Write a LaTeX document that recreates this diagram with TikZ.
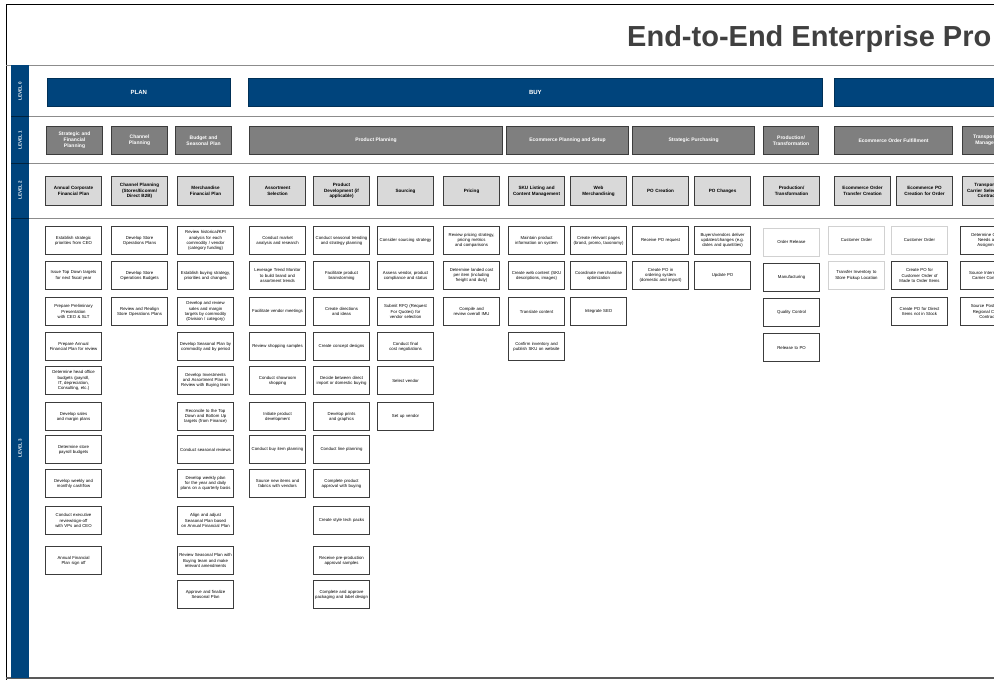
\documentclass[tikz,border=0pt]{standalone}
\usepackage{fontspec}
\setmainfont{Liberation Sans}
\usepackage{tikz}

\definecolor{lvlblue}{RGB}{0,68,124}
\definecolor{lvlgray}{RGB}{127,127,127}
\definecolor{lvllight}{RGB}{217,217,217}
\definecolor{titlegray}{RGB}{64,64,64}
\definecolor{boxline}{RGB}{60,60,60}

\hyphenpenalty=10000
\exhyphenpenalty=10000

\begin{document}
\begin{tikzpicture}[x=1pt,y=-1pt,
  lvlzero/.style={draw=lvlblue!70!black, line width=0.8pt, fill=lvlblue, text=white,
    anchor=north west, minimum height=28pt, inner sep=0pt,
    font=\fontsize{6}{7}\selectfont\bfseries},
  lvlone/.style={draw=boxline, line width=1.1pt, fill=lvlgray, text=white,
    anchor=north west, minimum height=28pt, inner sep=1pt, align=center,
    font=\fontsize{5}{6}\selectfont\bfseries},
  lvltwo/.style={draw=boxline, line width=1.1pt, fill=lvllight,
    anchor=north west, minimum width=56pt, minimum height=29pt, text width=53pt,
    inner sep=1pt, align=center, font=\fontsize{4.6}{5.6}\selectfont\bfseries},
  lvlthree/.style={draw=boxline, line width=1.1pt, fill=white,
    anchor=north west, minimum width=56pt, minimum height=28pt, text width=53pt,
    inner sep=1pt, align=center, font=\fontsize{4.3}{5.3}\selectfont},
  lvlpale/.style={lvlthree, draw=black!18, line width=0.8pt},
  lvltag/.style={rotate=90, text=white, inner sep=0pt,
    font=\fontsize{4.5}{5}\selectfont\bfseries},
  rowline/.style={draw=black!45, line width=0.9pt}]

% Page
\useasboundingbox (0,0) rectangle (994,680);
\clip (0,0) rectangle (994,680);
\fill[white] (0,0) rectangle (994,680);

% Title
\node[anchor=base west, inner sep=0pt, text=titlegray,
  font=\fontsize{29}{32}\selectfont\bfseries] (title) at (627,46) {End-to-End Enterprise Pro};

% Frame and row lines
\draw[black, line width=1pt] (6,680) -- (6,4) -- (994,4);
\draw[rowline] (6,65) -- (994,65);
\draw[rowline] (29,116) -- (994,116);
\draw[rowline] (29,163) -- (994,163);
\draw[rowline] (29,218) -- (994,218);
\draw[black!65, line width=1.3pt] (6,678) -- (994,678);

% Level strip
\fill[lvlblue] (11,65) rectangle (29,678);
\draw[lvlblue!50!black, line width=0.7pt] (11,116) -- (29,116);
\draw[lvlblue!50!black, line width=0.7pt] (11,163) -- (29,163);
\draw[lvlblue!50!black, line width=0.7pt] (11,218) -- (29,218);
\node[lvltag] (tagzero) at (20,91) {LEVEL 0};
\node[lvltag] (tagone) at (20,140) {LEVEL 1};
\node[lvltag] (tagtwo) at (20,190) {LEVEL 2};
\node[lvltag] (tagthree) at (20,448) {LEVEL 3};

% Level 0
\node[lvlzero, minimum width=183pt] (plan) at (47,78) {PLAN};
\node[lvlzero, minimum width=574pt] (buy) at (248,78) {BUY};
\node[lvlzero, minimum width=360pt] (nextphase) at (834,78) {};

% Level 1
\node[lvlone, minimum width=56pt, text width=52pt] (stratfin) at (46,126) {Strategic and\\Financial\\Planning};
\node[lvlone, minimum width=56pt, text width=52pt] (chanplan) at (111,126) {Channel\\Planning};
\node[lvlone, minimum width=56pt, text width=52pt] (budgseas) at (175,126) {Budget and\\Seasonal Plan};
\node[lvlone, minimum width=253pt] (prodplan) at (249,126) {Product Planning};
\node[lvlone, minimum width=122pt] (ecomsetup) at (506,126) {Ecommerce Planning and Setup};
\node[lvlone, minimum width=122pt] (stratpurch) at (632,126) {Strategic Purchasing};
\node[lvlone, minimum width=55pt, text width=52pt] (prodtrans) at (763,126) {Production/\\Transformation};
\node[lvlone, minimum width=118pt] (ecomfulfil) at (834,126) {Ecommerce Order Fulfillment};
\node[lvlone, minimum width=56pt, text width=52pt] (transmgmt) at (962,126) {Transportation\\Management};

% Level 2
\node[lvltwo] (corpplan) at (45,176) {Annual Corporate Financial Plan};
\node[lvltwo] (chanmix) at (111,176) {Channel Planning (Stores/Ecomm/ Direct B2B)};
\node[lvltwo] (merchplan) at (177,176) {Merchandise\\Financial Plan};
\node[lvltwo] (assort) at (249,176) {Assortment\\Selection};
\node[lvltwo] (proddev) at (313,176) {Product\\Development (if\\applicable)};
\node[lvltwo] (sourcing) at (377,176) {Sourcing};
\node[lvltwo] (pricing) at (443,176) {Pricing};
\node[lvltwo] (skulist) at (508,176) {SKU Listing and Content Management};
\node[lvltwo] (webmerch) at (570,176) {Web\\Merchandising};
\node[lvltwo] (pocreate) at (632,176) {PO Creation};
\node[lvltwo] (pochange) at (694,176) {PO Changes};
\node[lvltwo] (prodstep) at (763,176) {Production/ Transformation};
\node[lvltwo] (ordtrans) at (834,176) {Ecommerce Order Transfer Creation};
\node[lvltwo] (ordpo) at (896,176) {Ecommerce PO Creation for Order};
\node[lvltwo] (carrsel) at (962,176) {Transportation\\Carrier Selection and\\Contracting};

% Level 3 - annual corporate financial plan
\node[lvlthree] (corpa) at (45,226) {Establish strategic priorities from CEO};
\node[lvlthree] (corpb) at (45,261) {Issue Top Down targets for next fiscal year};
\node[lvlthree] (corpc) at (45,297) {Prepare Preliminary Presentation with CEO \& SLT};
\node[lvlthree] (corpd) at (45,332) {Prepare Annual Financial Plan for review};
\node[lvlthree] (corpe) at (45,366) {Determine head office budgets (payroll, IT, depreciation, Consulting, etc.)};
\node[lvlthree] (corpf) at (45,402) {Develop sales and margin plans};
\node[lvlthree] (corpg) at (45,435) {Determine store payroll budgets};
\node[lvlthree] (corph) at (45,469) {Develop weekly and monthly cashflow};
\node[lvlthree] (corpi) at (45,506) {Conduct executive review/sign-off with VPs and CEO};
\node[lvlthree] (corpj) at (45,546) {Annual Financial Plan sign off};

% Level 3 - channel planning
\node[lvlthree] (chana) at (111,226) {Develop Store Operations Plans};
\node[lvlthree] (chanb) at (111,261) {Develop Store Operations Budgets};
\node[lvlthree] (chanc) at (111,297) {Review and Realign Store Operations Plans};

% Level 3 - merchandise financial plan
\node[lvlthree] (merca) at (177,226) {Review historical/KPI analysis for each commodity / vendor (category funding)};
\node[lvlthree] (mercb) at (177,261) {Establish buying strategy, priorities and changes};
\node[lvlthree] (mercc) at (177,297) {Develop and review sales and margin targets by commodity (Division / category)};
\node[lvlthree] (mercd) at (177,332) {Develop Seasonal Plan by commodity and by period};
\node[lvlthree] (merce) at (177,366) {Develop Investments and Assortment Plan in Review with Buying team};
\node[lvlthree] (mercf) at (177,402) {Reconcile to the Top Down and Bottom Up targets (from Finance)};
\node[lvlthree] (mercg) at (177,435) {Conduct seasonal reviews};
\node[lvlthree] (merch) at (177,469) {Develop weekly plan for the year and daily plans on a quarterly basis};
\node[lvlthree] (merci) at (177,506) {Align and adjust Seasonal Plan based on Annual Financial Plan};
\node[lvlthree] (mercj) at (177,546) {Review Seasonal Plan with Buying team and make relevant amendments};
\node[lvlthree] (merck) at (177,580) {Approve and finalize Seasonal Plan};

% Level 3 - assortment selection
\node[lvlthree] (assa) at (249,226) {Conduct market analysis and research};
\node[lvlthree] (assb) at (249,261) {Leverage Trend Monitor to build brand and assortment trends};
\node[lvlthree] (assc) at (249,297) {Facilitate vendor meetings};
\node[lvlthree] (assd) at (249,332) {Review shopping samples};
\node[lvlthree] (asse) at (249,366) {Conduct showroom shopping};
\node[lvlthree] (assf) at (249,402) {Initiate product development};
\node[lvlthree] (assg) at (249,435) {Conduct buy item planning};
\node[lvlthree] (assh) at (249,469) {Source new items and fabrics with vendors};

% Level 3 - product development
\node[lvlthree] (deva) at (313,226) {Conduct seasonal trending and strategy planning};
\node[lvlthree] (devb) at (313,261) {Facilitate product brainstorming};
\node[lvlthree] (devc) at (313,297) {Create directions and ideas};
\node[lvlthree] (devd) at (313,332) {Create concept designs};
\node[lvlthree] (deve) at (313,366) {Decide between direct import or domestic buying};
\node[lvlthree] (devf) at (313,402) {Develop prints and graphics};
\node[lvlthree] (devg) at (313,435) {Conduct line planning};
\node[lvlthree] (devh) at (313,469) {Complete product approval with buying};
\node[lvlthree] (devi) at (313,506) {Create style tech packs};
\node[lvlthree] (devj) at (313,546) {Receive pre-production approval samples};
\node[lvlthree] (devk) at (313,580) {Complete and approve packaging and label design};

% Level 3 - sourcing
\node[lvlthree] (srca) at (377,226) {Consider sourcing strategy};
\node[lvlthree] (srcb) at (377,261) {Assess vendor, product compliance and status};
\node[lvlthree] (srcc) at (377,297) {Submit RFQ (Request For Quotes) for vendor selection};
\node[lvlthree] (srcd) at (377,332) {Conduct final cost negotiations};
\node[lvlthree] (srce) at (377,366) {Select vendor};
\node[lvlthree] (srcf) at (377,402) {Set up vendor};

% Level 3 - pricing
\node[lvlthree] (pria) at (443,226) {Review pricing strategy, pricing metrics and comparisons};
\node[lvlthree] (prib) at (443,261) {Determine landed cost per item (including freight and duty)};
\node[lvlthree] (pric) at (443,297) {Compile and review overall IMU};

% Level 3 - sku listing
\node[lvlthree] (skua) at (508,226) {Maintain product information on system};
\node[lvlthree] (skub) at (508,261) {Create web content (SKU descriptions, images)};
\node[lvlthree] (skuc) at (508,297) {Translate content};
\node[lvlthree] (skud) at (508,332) {Confirm inventory and publish SKU on website};

% Level 3 - web merchandising
\node[lvlthree] (weba) at (570,226) {Create relevant pages (brand, promo, taxonomy)};
\node[lvlthree] (webb) at (570,261) {Coordinate merchandise optimization};
\node[lvlthree] (webc) at (570,297) {Integrate SEO};

% Level 3 - purchase orders
\node[lvlthree] (poa) at (632,226) {Receive PO request};
\node[lvlthree] (pob) at (632,261) {Create PO in ordering system (domestic and import)};
\node[lvlthree] (pca) at (694,226) {Buyers/vendors deliver updates/changes (e.g. dates and quantities)};
\node[lvlthree] (pcb) at (694,261) {Update PO};

% Level 3 - production
\node[lvlpale] (prda) at (763,228) {Order Release};
\node[lvlthree] (prdb) at (763,263) {Manufacturing};
\node[lvlthree] (prdc) at (763,298) {Quality Control};
\node[lvlthree] (prdd) at (763,333) {Release to PO};

% Level 3 - ecommerce fulfillment
\node[lvlpale] (otra) at (828,226) {Customer Order};
\node[lvlpale] (otrb) at (828,261) {Transfer Inventory to Store Pickup Location};
\node[lvlpale] (opoa) at (891,226) {Customer Order};
\node[lvlthree] (opob) at (891,261) {Create PO for Customer Order of Made to Order Items};
\node[lvlthree] (opoc) at (891,297) {Create PO for Direct Items not in Stock};

% Level 3 - carriers
\node[lvlthree] (cara) at (960,226) {Determine Carrier\\Needs and\\Assignment};
\node[lvlthree] (carb) at (960,261) {Source International\\Carrier Contracts};
\node[lvlthree] (carc) at (960,297) {Source Postal and\\Regional Carrier\\Contracts};

\end{tikzpicture}
\end{document}
